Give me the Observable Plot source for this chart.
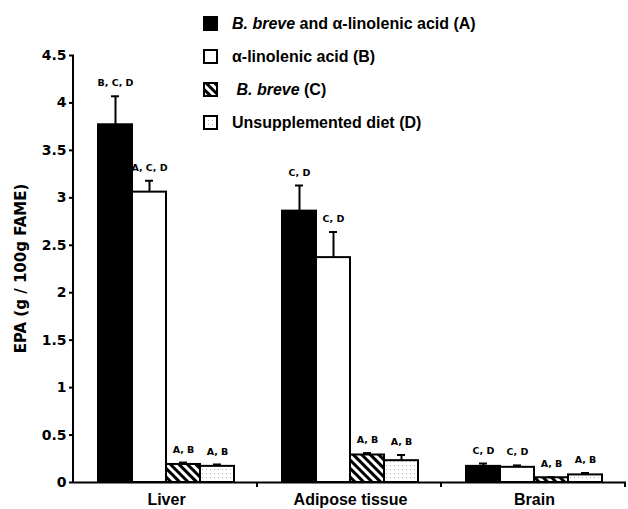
<!DOCTYPE html>
<html>
<head>
<meta charset="utf-8">
<script src="https://cdn.jsdelivr.net/npm/d3@7"></script>
<script src="https://cdn.jsdelivr.net/npm/@observablehq/plot@0.6"></script>
<style>
  html, body { margin: 0; padding: 0; background: #fff; }
  #wrap { position: relative; width: 628px; height: 509px; overflow: hidden; }
  #chart { position: absolute; left: 0; top: 0; }
  #legend { position: absolute; left: 203px; top: 7px; font-family: "Liberation Sans", Arial, sans-serif; font-weight: bold; font-size: 16px; color: #000; }
  .row { display: flex; align-items: center; height: 33px; }
  .row svg { margin-right: 13px; flex: none; }
</style>
</head>
<body>
<svg width="0" height="0" style="position:absolute">
  <defs>
    <pattern id="hatch" patternUnits="userSpaceOnUse" width="6" height="6" patternTransform="rotate(-45)">
      <rect width="6" height="6" fill="#fff"></rect>
      <rect width="3" height="6" fill="#000"></rect>
    </pattern>
    <pattern id="dots" patternUnits="userSpaceOnUse" width="4" height="4">
      <rect width="4" height="4" fill="#fff"></rect>
      <rect x="1" y="1" width="1" height="1" fill="#b0b0b0"></rect>
    </pattern>
  </defs>
</svg>
<div id="wrap">
  <div id="chart"></div>
  <div id="legend"></div>
</div>
<script>
// ---- data ----
const tissues = ["Liver", "Adipose tissue", "Brain"];
const groups = ["A", "B", "C", "D"];
const groupFills = ["#000", "#fff", "url(#hatch)", "url(#dots)"];
const legendLabels = [
  "<i>B. breve</i> and \u03b1-linolenic acid (A)",
  "\u03b1-linolenic acid (B)",
  "<i>&nbsp;B. breve</i> (C)",
  "Unsupplemented diet (D)"
];
const liverEPA   = [3.77, 3.06, 0.19, 0.17];
const liverSEM   = [0.30, 0.12, 0.02, 0.02];
const adiposeEPA = [2.86, 2.37, 0.29, 0.23];
const adiposeSEM = [0.27, 0.27, 0.02, 0.06];
const brainEPA   = [0.17, 0.16, 0.05, 0.08];
const brainSEM   = [0.03, 0.02, 0.005, 0.02];
const liverSig   = ["B, C, D", "A, C, D", "A, B", "A, B"];
const adiposeSig = ["C, D", "C, D", "A, B", "A, B"];
const brainSig   = ["C, D", "C, D", "A, B", "A, B"];
const yTicks = [0, 0.5, 1, 1.5, 2, 2.5, 3, 3.5, 4, 4.5];
const yLabel = "EPA (g / 100g FAME)";

const values = [liverEPA, adiposeEPA, brainEPA];
const sems = [liverSEM, adiposeSEM, brainSEM];
const sigs = [liverSig, adiposeSig, brainSig];
const data = [];
tissues.forEach((t, i) => groups.forEach((g, j) => {
  data.push({tissue: t, group: g, value: values[i][j], top: values[i][j] + sems[i][j], sig: sigs[i][j]});
}));

const plot = Plot.plot({
  width: 628,
  height: 509,
  marginLeft: 73,
  marginRight: 2,
  marginTop: 55,
  marginBottom: 27,
  style: {color: "#000", background: "transparent"},
  fx: {domain: tissues, padding: 0, label: null},
  x: {domain: groups, paddingInner: 0, paddingOuter: 0.7, axis: null},
  y: {domain: [0, 4.5]},
  color: {domain: groups, range: groupFills},
  marks: [
    Plot.axisY({ticks: yTicks, tickFormat: d => String(d), tickSize: 5, tickPadding: 3, label: null,
      fontSize: 14, fontWeight: "bold", fontFamily: "DejaVu Sans", strokeWidth: 2}),
    Plot.axisFx({anchor: "bottom", tickSize: 0, tickPadding: 11, label: null,
      fontSize: 16, fontWeight: "bold", fontFamily: "Liberation Sans"}),
    Plot.barY(data, {fx: "tissue", x: "group", y: "value", fill: "group", stroke: "#000", strokeWidth: 2}),
    Plot.ruleX(data, {fx: "tissue", x: "group", y1: "value", y2: "top", strokeWidth: 2}),
    Plot.tickY(data, {fx: "tissue", x: "group", y: "top", strokeWidth: 2, insetLeft: 13, insetRight: 13}),
    Plot.text(data, {fx: "tissue", x: "group", y: "top", text: "sig", dy: -13,
      fontSize: 9.5, fontWeight: "bold", fontFamily: "DejaVu Sans"}),
    Plot.ruleY([0], {strokeWidth: 2})
  ]
});
document.getElementById("chart").appendChild(plot);

// axis line, group separators and y label, positioned through Plot's scales
const fx = plot.scale("fx"), ys = plot.scale("y");
const svg = d3.select(plot);
const y0 = ys.apply(0), yTop = ys.apply(4.5);
const left = fx.range[0];
svg.append("line").attr("x1", left).attr("x2", left).attr("y1", y0 + 1).attr("y2", yTop)
  .attr("stroke", "#000").attr("stroke-width", 2);
tissues.forEach(t => {
  const xr = fx.apply(t) + fx.bandwidth - 1;
  svg.append("line").attr("x1", xr).attr("x2", xr).attr("y1", y0).attr("y2", y0 + 5)
    .attr("stroke", "#000").attr("stroke-width", 2);
});
svg.append("text").text(yLabel)
  .attr("transform", `translate(21,${(y0 + yTop) / 2}) rotate(-90)`)
  .attr("text-anchor", "middle").attr("dominant-baseline", "middle")
  .attr("font-family", "DejaVu Sans").attr("font-weight", "bold").attr("font-size", 15)
  .attr("fill", "#000");

// legend
const legend = d3.select("#legend");
groups.forEach((g, i) => {
  const row = legend.append("div").attr("class", "row");
  const s = row.append("svg").attr("width", 16).attr("height", 16);
  s.append("rect").attr("x", 1).attr("y", 1).attr("width", 13).attr("height", 13)
    .attr("fill", groupFills[i]).attr("stroke", "#000").attr("stroke-width", 2);
  row.append("span").html(legendLabels[i]);
});
</script>
</body>
</html>
